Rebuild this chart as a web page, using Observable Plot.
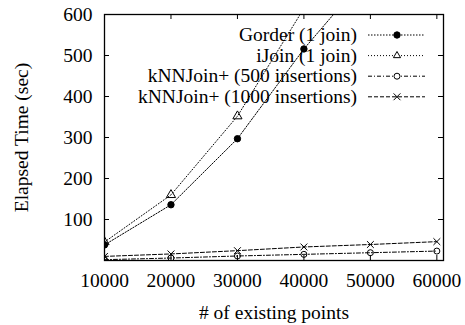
<!DOCTYPE html>
<html>
<head>
<meta charset="utf-8">
<script src="https://cdn.jsdelivr.net/npm/d3@7"></script>
<script src="https://cdn.jsdelivr.net/npm/@observablehq/plot@0.6"></script>
<style>
  html, body { margin: 0; padding: 0; background: #fff; }
  #chart { width: 465px; height: 325px; }
</style>
</head>
<body>
<div id="chart"></div>
<script>
// ---- data ----
const seriesNames = ["Gorder (1 join)", "iJoin (1 join)", "kNNJoin+ (500 insertions)", "kNNJoin+ (1000 insertions)"];
const gorderX = [10000, 20000, 30000, 40000, 50000];
const gorderY = [38, 136, 297, 516, 705];
const ijoinX = [10000, 20000, 30000, 40000];
const ijoinY = [45, 160, 352, 615];
const knn500X = [10000, 20000, 30000, 40000, 50000, 60000];
const knn500Y = [2, 6, 11, 15, 19, 23];
const knn1000X = [10000, 20000, 30000, 40000, 50000, 60000];
const knn1000Y = [10, 16, 24, 33, 39, 46];
const xTicks = [10000, 20000, 30000, 40000, 50000, 60000];
const yTicks = [100, 200, 300, 400, 500, 600];
const xLabel = "# of existing points";
const yLabel = "Elapsed Time (sec)";

// ---- styles ----
const W = 465, H = 325;
const mL = 104, mR = 22, mT = 14, mB = 65;
const plotW = W - mL - mR, plotH = H - mT - mB;
const FONT = "'Liberation Serif', 'Times New Roman', serif";
const FS = 19.5;
const tickLen = 5;
const styles = [
  {dash: "1.5,1.5", symbol: "circle", fill: "black", stroke: "black", r: 3.2},
  {dash: "1,2", symbol: "triangle", fill: "none", stroke: "black", r: 3.4},
  {dash: "4,2,1,2", symbol: "circle", fill: "none", stroke: "black", r: 3},
  {dash: "4,2", symbol: "times", fill: "none", stroke: "black", r: 3.2}
];

const seriesData = [
  gorderX.map((x, i) => ({x, y: gorderY[i]})),
  ijoinX.map((x, i) => ({x, y: ijoinY[i]})),
  knn500X.map((x, i) => ({x, y: knn500Y[i]})),
  knn1000X.map((x, i) => ({x, y: knn1000Y[i]}))
];

const seriesMarks = seriesData.flatMap((rows, i) => {
  const s = styles[i];
  return [
    Plot.line(rows, {x: "x", y: "y", stroke: "black", strokeWidth: 1, strokeDasharray: s.dash, clip: true}),
    Plot.dot(rows, {x: "x", y: "y", symbol: s.symbol, r: s.r, fill: s.fill, stroke: s.stroke, strokeWidth: 1, clip: true})
  ];
});

const chart = Plot.plot({
  width: W, height: H,
  marginLeft: mL, marginRight: mR, marginTop: mT, marginBottom: mB,
  x: {domain: [10000, 61000]},
  y: {domain: [0, 600]},
  style: {fontFamily: FONT, fontSize: FS + "px", background: "white", color: "black"},
  marks: [
    Plot.axisX({ticks: xTicks, tickSize: 0, tickPadding: 13, tickFormat: d => String(d), label: null, fontSize: FS}),
    Plot.axisY({ticks: yTicks, tickSize: 0, tickPadding: 12, tickFormat: d => String(d), label: null, fontSize: FS}),
    Plot.tickX(xTicks, {x: d => d, insetTop: plotH - tickLen, stroke: "black"}),
    Plot.tickX(xTicks, {x: d => d, insetBottom: plotH - tickLen, stroke: "black"}),
    Plot.tickY(yTicks, {y: d => d, insetRight: plotW - tickLen, stroke: "black"}),
    Plot.tickY(yTicks, {y: d => d, insetLeft: plotW - tickLen, stroke: "black"}),
    ...seriesMarks,
    Plot.frame({stroke: "black", strokeWidth: 1.3}),
    Plot.text([xLabel], {frameAnchor: "bottom", dy: 52, text: d => d, fontSize: FS, fill: "black", textAnchor: "middle", lineAnchor: "middle"}),
    Plot.text([yLabel], {frameAnchor: "left", dx: -83, rotate: -90, text: d => d, fontSize: FS, fill: "black", textAnchor: "middle", lineAnchor: "middle"})
  ]
});

document.getElementById("chart").appendChild(chart);

// ---- legend (inside plot, top-right) ----
const svg = d3.select(chart);
const lg = svg.append("g").attr("font-family", FONT).attr("font-size", FS);
const symMap = {circle: d3.symbolCircle, triangle: d3.symbolTriangle2, times: d3.symbolTimes};
const rowY0 = 35, rowStep = 20.6, textRight = 357, lineX1 = 368, lineX2 = 425, markX = 397;
seriesNames.forEach((name, i) => {
  const s = styles[i];
  const y = rowY0 + i * rowStep;
  lg.append("text").attr("x", textRight).attr("y", y).attr("dy", "0.32em")
    .attr("text-anchor", "end").attr("fill", "black").text(name);
  lg.append("line").attr("x1", lineX1).attr("x2", lineX2).attr("y1", y).attr("y2", y)
    .attr("stroke", "black").attr("stroke-width", 1).attr("stroke-dasharray", s.dash);
  lg.append("path").attr("transform", `translate(${markX},${y})`)
    .attr("d", d3.symbol(symMap[s.symbol], Math.PI * s.r * s.r)())
    .attr("fill", s.fill === "none" ? "white" : s.fill).attr("stroke", "black").attr("stroke-width", 1);
});
</script>
</body>
</html>
